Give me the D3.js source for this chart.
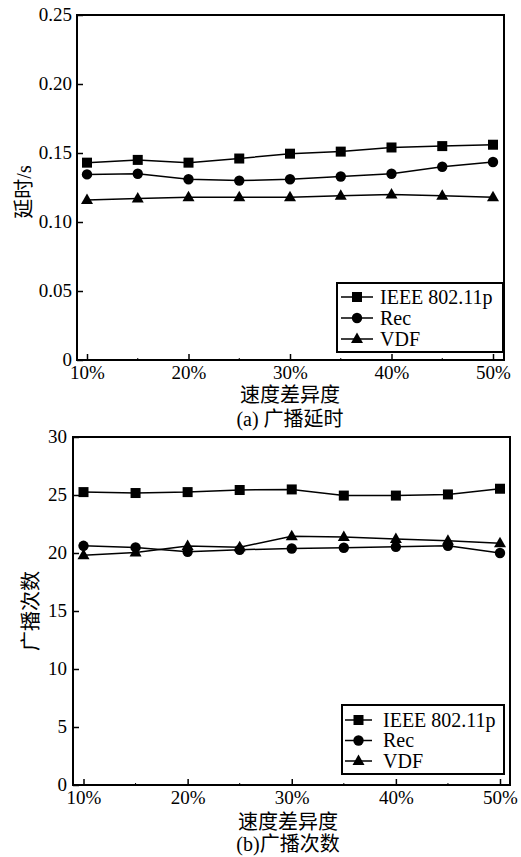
<!DOCTYPE html>
<html><head><meta charset="utf-8">
<script src="https://cdn.jsdelivr.net/npm/d3@7"></script>
<style>body{margin:0;background:#fff}svg{display:block}</style>
</head><body><svg id="c" width="521" height="857"></svg>
<script>
const xValues = [10, 15, 20, 25, 30, 35, 40, 45, 50];
const xTickLabels = ["10%", "20%", "30%", "40%", "50%"];
const seriesNames = ["IEEE 802.11p", "Rec", "VDF"];
const seriesMarkers = ["square", "circle", "triangle"];
// (a) 广播延时
const delayIEEE = [0.143, 0.145, 0.143, 0.146, 0.1495, 0.151, 0.154, 0.155, 0.156];
const delayRec  = [0.1345, 0.135, 0.131, 0.130, 0.131, 0.133, 0.135, 0.140, 0.1435];
const delayVDF  = [0.116, 0.117, 0.118, 0.118, 0.118, 0.119, 0.120, 0.119, 0.118];
const delayTicks = [0, 0.05, 0.10, 0.15, 0.20, 0.25];
const delayTickLabels = ["0", "0.05", "0.10", "0.15", "0.20", "0.25"];
// (b) 广播次数
const countIEEE = [25.25, 25.17, 25.25, 25.43, 25.48, 24.95, 24.95, 25.05, 25.54];
const countRec  = [20.62, 20.48, 20.1, 20.28, 20.39, 20.45, 20.53, 20.62, 20.0];
const countVDF  = [19.8, 20.05, 20.6, 20.5, 21.45, 21.37, 21.2, 21.05, 20.85];
const countTicks = [0, 5, 10, 15, 20, 25, 30];
const countTickLabels = ["0", "5", "10", "15", "20", "25", "30"];

const FONT = "'Liberation Serif', 'Noto Sans CJK SC', serif";
const svg = d3.select("#c");

function txt(sel, size) {
  return sel.style("font-family", FONT).style("font-size", size + "px").style("fill", "#000");
}

function panel(o) {
  const g = svg.append("g");
  const x = d3.scaleLinear().domain([10, 50]).range([o.x10, o.x50]);
  const y = d3.scaleLinear().domain([o.ticks[0], o.ticks[o.ticks.length-1]]).range([o.bottom, o.top]);
  g.append("rect").attr("x", o.left).attr("y", o.top).attr("width", o.right - o.left).attr("height", o.bottom - o.top)
    .attr("fill", "none").attr("stroke", "#000").attr("stroke-width", 2);
  const ya = d3.axisLeft(y).tickValues(o.ticks).tickSize(-6).tickPadding(o.ypad)
    .tickFormat((d, i) => o.tickLabels[i]);
  const yg = g.append("g").attr("transform", `translate(${o.left},0)`).call(ya);
  yg.select(".domain").remove();
  yg.selectAll(".tick line").attr("stroke", "#000").attr("stroke-width", 1.5);
  txt(yg.selectAll(".tick text"), 19).attr("dy", "0.3em");
  const xa = d3.axisBottom(x).tickValues([10, 20, 30, 40, 50]).tickSize(-6).tickPadding(3)
    .tickFormat((d, i) => xTickLabels[i]);
  const xg = g.append("g").attr("transform", `translate(0,${o.bottom})`).call(xa);
  xg.select(".domain").remove();
  xg.selectAll(".tick line").attr("stroke", "#000").attr("stroke-width", 1.5);
  txt(xg.selectAll(".tick text"), 19).attr("dy", "0.85em");
  g.selectAll(".minor").data([15, 25, 35, 45]).enter().append("line")
    .attr("x1", d => x(d)).attr("x2", d => x(d)).attr("y1", o.bottom).attr("y2", o.bottom - 2)
    .attr("stroke", "#000").attr("stroke-width", 1);
  const line = d3.line().x((d, i) => x(xValues[i])).y(d => y(d));
  o.series.forEach((s, k) => {
    g.append("path").attr("d", line(s)).attr("fill", "none").attr("stroke", "#000").attr("stroke-width", 1.5);
    s.forEach((v, i) => marker(g, seriesMarkers[k], x(xValues[i]), y(v)));
  });
  const L = o.leg;
  const lg = g.append("g");
  lg.append("rect").attr("x", L.x).attr("y", L.y).attr("width", L.w).attr("height", L.h)
    .attr("fill", "#fff").attr("stroke", "#000").attr("stroke-width", 2);
  seriesNames.forEach((n, k) => {
    const cy = L.y + L.r0 + k * L.dy;
    lg.append("line").attr("x1", L.x + L.l0).attr("x2", L.x + L.l1).attr("y1", cy).attr("y2", cy)
      .attr("stroke", "#000").attr("stroke-width", 1.5);
    marker(lg, seriesMarkers[k], L.x + (L.l0 + L.l1) / 2, cy);
    txt(lg.append("text"), 20).attr("x", L.x + L.tx).attr("y", cy + 6.5).text(n);
  });
  txt(g.append("text"), 20).attr("transform", `translate(${o.ylabX},${o.ylabY}) rotate(-90)`)
    .attr("text-anchor", "middle").text(o.ylabel);
  txt(g.append("text"), 20).attr("x", o.xlabX).attr("y", o.xlabY).attr("text-anchor", "middle").text("速度差异度");
  txt(g.append("text"), 20).attr("x", o.xlabX).attr("y", o.capY).attr("text-anchor", "middle").text(o.caption);
}

function marker(g, type, cx, cy) {
  if (type === "square") g.append("rect").attr("x", cx - 5).attr("y", cy - 5).attr("width", 10).attr("height", 10).attr("fill", "#000");
  else if (type === "circle") g.append("circle").attr("cx", cx).attr("cy", cy).attr("r", 5.2).attr("fill", "#000");
  else g.append("path").attr("d", `M${cx},${cy - 6.5}L${cx + 6},${cy + 4}L${cx - 6},${cy + 4}Z`).attr("fill", "#000");
}

panel({
  left: 77, right: 504, top: 15, bottom: 360, x10: 87, x50: 493, ypad: 5,
  ticks: delayTicks, tickLabels: delayTickLabels,
  series: [delayIEEE, delayRec, delayVDF],
  leg: {x: 337, y: 283, w: 166, h: 69, r0: 14, dy: 21, l0: 4, l1: 36, tx: 43},
  ylabel: "延时/s", ylabX: 31, ylabY: 192, xlabX: 290, xlabY: 402, capY: 426, caption: "(a) 广播延时"
});
panel({
  left: 73, right: 510, top: 437, bottom: 785, x10: 83.5, x50: 500, ypad: 6,
  ticks: countTicks, tickLabels: countTickLabels,
  series: [countIEEE, countRec, countVDF],
  leg: {x: 342, y: 705, w: 162, h: 69, r0: 15, dy: 20.5, l0: 3, l1: 30, tx: 41},
  ylabel: "广播次数", ylabX: 38, ylabY: 611, xlabX: 288, xlabY: 829, capY: 851, caption: "(b)广播次数"
});
</script></body></html>
